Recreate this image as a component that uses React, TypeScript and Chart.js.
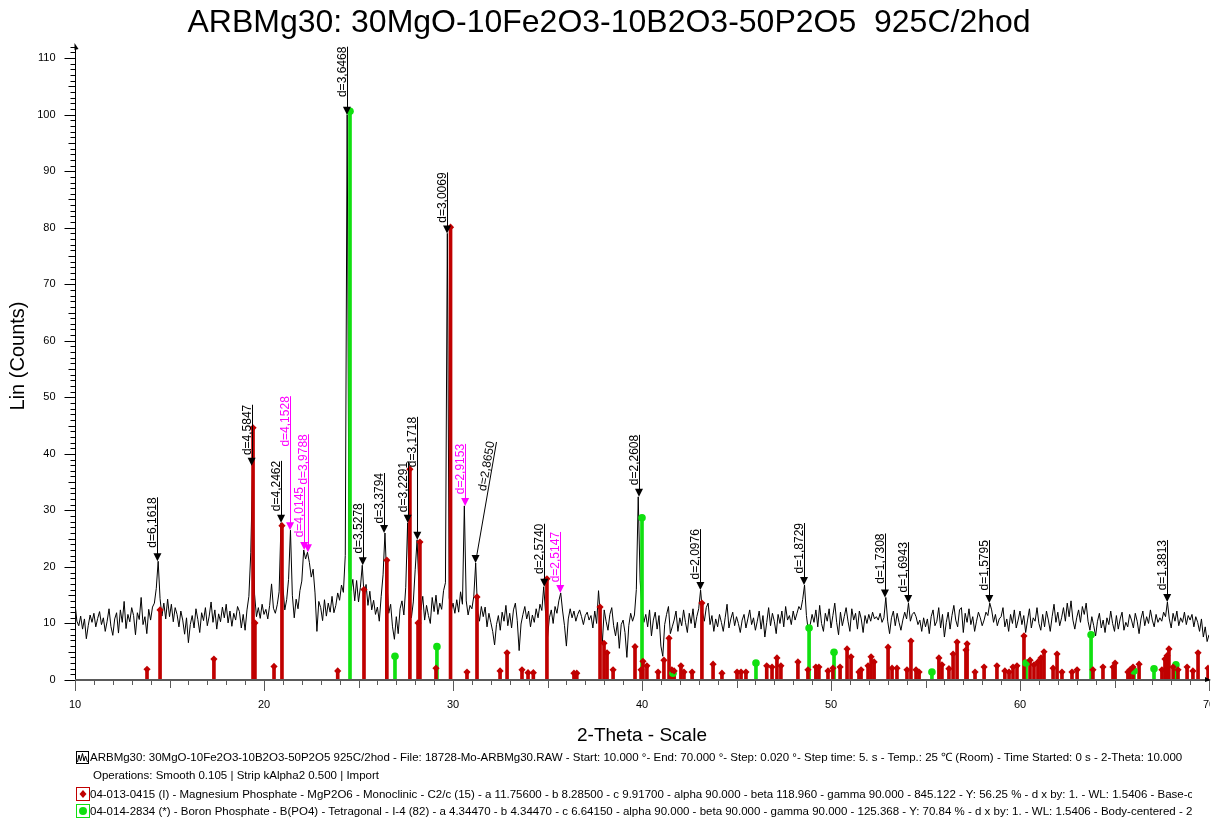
import { useEffect, useRef } from "react";
import { Chart, registerables } from "chart.js";

Chart.register(...registerables);

// Measured scan (2-Theta from SCAN_START in steps of SCAN_STEP), Lin (Counts)
const SCAN_START = 10;
const SCAN_STEP = 0.1;
const WAVELENGTH = 1.5406;

const counts: number[] = [
  13.5, 10.4, 9.6, 11.3, 9.0, 10.8, 7.3, 9.6, 11.5, 10.2,
  11.8, 9.4, 10.9, 12.1, 9.8, 11.0, 8.6, 10.4, 12.6, 9.5,
  7.9, 10.8, 11.9, 8.3, 12.4, 10.2, 13.9, 9.1, 11.6, 10.3,
  12.8, 11.4, 8.0, 11.9, 10.7, 14.6, 9.8, 11.2, 8.2, 12.5,
  10.6, 12.9, 13.6, 16.2, 21.0, 14.4, 11.3, 13.6, 10.8, 14.3,
  11.2, 13.4, 10.3, 12.8, 11.6, 9.4, 12.2, 10.6, 8.1, 11.0,
  6.6, 9.8, 11.4, 9.2, 12.6, 10.7, 8.4, 11.9, 10.5, 12.8,
  9.6, 11.3, 13.8, 10.2, 12.4, 9.0, 11.7, 10.3, 12.9, 11.0,
  13.4, 10.1, 12.2, 9.5, 11.8, 10.6, 13.0, 12.1, 9.2, 11.6,
  8.8, 12.4, 14.8, 22.5, 37.9, 15.2, 11.2, 12.8, 10.9, 13.4,
  11.6, 12.5, 10.8, 13.2, 17.0, 12.7, 11.8, 13.3, 15.6, 27.8,
  16.5, 12.4, 14.2, 17.8, 26.5, 15.0, 11.0, 14.3, 12.6, 15.8,
  17.5, 23.0, 21.4, 22.6, 20.8, 18.2, 19.6, 15.4, 8.6, 13.9,
  12.8, 10.5, 14.2, 11.3, 13.6, 12.0, 14.8, 11.9, 13.2, 15.4,
  14.1, 16.8, 15.5, 22.0, 100.0, 19.5, 15.8, 17.8, 14.0, 17.6,
  13.8, 16.4, 20.3, 14.6, 16.9, 13.2, 15.7, 12.4, 14.1, 11.6,
  12.9, 10.4, 14.8, 18.6, 26.0, 17.5, 11.8, 13.4, 9.4, 7.2,
  11.2, 8.2, 12.6, 14.0, 11.5, 16.4, 27.8, 13.6, 11.0, 13.8,
  19.5, 24.8, 16.2, 12.4, 14.8, 10.6, 13.2, 11.4, 10.0, 14.6,
  12.1, 15.0, 11.6, 13.6, 12.5, 15.8, 17.2, 79.0, 14.5, 12.2,
  13.6, 11.8, 14.2, 12.0, 15.6, 13.4, 30.8, 14.0, 11.5, 13.2,
  12.6, 14.8, 20.7, 12.3, 10.4, 13.0, 11.2, 12.9, 9.4, 11.8,
  10.2, 8.6, 6.2, 9.8, 11.4, 8.8, 12.0, 10.4, 13.2, 9.6,
  11.8, 9.2, 12.4, 13.6, 10.5, 5.2, 9.9, 11.6, 13.0, 10.8,
  12.2, 9.4, 11.5, 10.2, 12.6, 11.0, 13.4, 12.3, 16.5, 11.8,
  7.5, 11.0, 12.4, 10.0, 13.0, 11.8, 14.0, 15.4, 12.2, 9.6,
  6.0, 10.8, 12.6, 11.0, 12.2, 10.4, 11.6, 12.4, 11.2, 9.8,
  11.4, 12.0, 10.6, 11.4, 9.2, 12.2, 10.0, 15.8, 11.2, 6.4,
  12.4, 10.4, 8.8, 11.6, 12.8, 9.6, 7.8, 10.2, 5.6, 9.8,
  10.6, 8.4, 4.0, 9.6, 11.8, 10.4, 11.5, 16.0, 32.4, 17.6,
  12.8, 10.2, 11.6, 9.4, 12.4, 7.8, 10.6, 12.0, 9.0, 11.4,
  6.0, 4.2, 9.8, 11.6, 13.0, 8.2, 9.4, 10.6, 12.2, 8.6,
  11.0, 9.6, 12.4, 10.2, 8.4, 11.8, 10.0, 12.6, 9.2, 11.2,
  12.6, 15.9, 12.0, 10.4, 12.8, 13.6, 9.8, 11.4, 8.6, 10.8,
  9.4, 11.6, 10.2, 8.6, 11.0, 13.4, 9.2, 10.8, 12.0, 9.6,
  11.2, 10.0, 8.4, 10.6, 11.6, 9.2, 10.8, 12.4, 9.8, 11.0,
  8.8, 10.4, 12.2, 9.0, 11.4, 7.6, 10.2, 12.8, 9.6, 11.8,
  10.4, 8.2, 11.6, 10.0, 12.2, 9.4, 13.0, 10.6, 11.4, 9.8,
  12.2, 10.6, 11.8, 13.0, 12.4, 14.2, 16.8, 11.4, 8.6, 9.8,
  11.6, 10.2, 12.4, 9.4, 13.2, 10.0, 8.6, 11.8, 10.4, 12.6,
  9.2, 11.4, 13.6, 10.2, 8.0, 12.0, 9.6, 11.2, 12.8, 10.4,
  8.6, 12.6, 10.6, 11.8, 9.0, 12.2, 10.8, 8.4, 11.4, 10.0,
  11.6, 10.4, 12.0, 10.8, 11.2, 10.6, 11.8, 10.2, 11.0, 14.6,
  10.4, 8.2, 11.0, 12.2, 9.6, 11.8, 10.2, 8.8, 10.6, 12.0,
  10.8, 13.6, 10.4, 11.6, 12.0, 11.2, 9.8, 10.6, 8.6, 11.0,
  9.4, 10.8, 8.2, 11.2, 12.4, 9.6, 10.4, 12.8, 9.2, 11.6,
  7.6, 10.2, 12.0, 9.0, 11.4, 13.2, 10.6, 9.4, 12.4, 12.8,
  8.4, 11.8, 10.2, 12.6, 9.8, 11.2, 8.6, 10.4, 12.0, 11.0,
  9.6, 10.6, 12.0, 11.4, 13.6, 12.4, 10.2, 11.6, 9.6, 10.8,
  11.2, 12.8, 9.4, 10.8, 8.6, 11.6, 10.0, 12.4, 9.2, 10.6,
  12.2, 9.8, 11.4, 8.4, 10.6, 12.6, 9.2, 11.0, 10.4, 12.8,
  10.0, 8.8, 11.6, 9.4, 12.2, 10.6, 8.6, 11.2, 13.4, 10.2,
  12.0, 9.6, 11.0, 12.8, 10.4, 13.6, 11.2, 14.0, 10.6, 9.0,
  11.0, 12.4, 10.2, 13.0, 11.6, 13.6, 10.4, 8.8, 11.2, 9.6,
  7.8, 10.4, 11.8, 9.2, 10.6, 8.4, 11.0, 9.8, 12.2, 10.0,
  8.6, 11.4, 9.0, 10.8, 12.0, 8.8, 10.2, 9.4, 11.6, 10.6,
  9.2, 11.8, 10.4, 8.2, 10.8, 12.2, 9.6, 11.2, 10.0, 12.4,
  10.6, 9.4, 11.6, 10.2, 11.0, 10.4, 12.0, 11.2, 13.8, 10.8,
  9.2, 11.8, 10.4, 12.2, 9.6, 11.0, 10.2, 12.0, 9.8, 11.4,
  10.6, 11.6, 9.4, 11.2, 10.2, 8.6, 10.8, 7.6, 9.4, 6.8,
  8.0,
];

// 04-013-0415 Magnesium Phosphate MgP2O6 reference lines
const mgPosition = [
  13.81, 14.5, 17.35, 19.42, 19.52, 20.53, 20.95, 23.9, 25.29, 26.5,
  27.72, 28.15, 28.25, 29.1, 29.87, 30.74, 31.27, 32.49, 32.86, 33.65,
  33.97, 34.25, 34.97, 36.4, 36.55, 37.78, 37.99, 38.15, 38.47, 39.63,
  39.95, 40.05, 40.26, 40.85, 41.16, 41.43, 41.58, 41.7, 42.06, 42.22,
  42.65, 43.17, 43.76, 44.23, 45.03, 45.24, 45.5, 46.6, 46.88, 47.14,
  47.35, 48.25, 48.78, 49.2, 49.36, 49.84, 50.1, 50.48, 50.85, 51.06,
  51.48, 51.59, 51.96, 52.12, 52.28, 53.02, 53.23, 53.49, 54.02, 54.23,
  54.5, 54.66, 55.71, 55.87, 56.24, 56.46, 56.67, 57.14, 57.2, 57.62,
  58.1, 58.78, 59.2, 59.42, 59.63, 59.84, 60.21, 60.53, 60.74, 60.95,
  61.11, 61.27, 61.75, 61.96, 62.22, 62.75, 63.02, 63.86, 64.39, 64.92,
  65.03, 65.71, 65.82, 65.98, 66.3, 67.51, 67.67, 67.78, 67.88, 68.1,
  68.36, 68.84, 69.15, 69.42, 69.95,
];
const mgIntensity = [
  1.9, 12.4, 3.7, 44.6, 10.1, 2.4, 27.3, 1.6, 16.0, 21.2,
  37.3, 10.1, 24.4, 2.1, 80.1, 1.4, 14.7, 1.6, 4.8, 1.8,
  1.3, 1.3, 17.9, 1.2, 1.2, 12.9, 6.5, 4.8, 1.8, 5.9,
  1.8, 3.3, 2.5, 1.4, 3.5, 7.4, 1.8, 1.6, 2.5, 1.4,
  1.4, 13.6, 2.8, 1.2, 1.4, 1.4, 1.4, 2.5, 2.3, 3.9,
  2.5, 3.2, 1.8, 2.3, 2.3, 1.6, 2.1, 2.3, 5.5, 4.1,
  1.4, 1.8, 2.5, 4.1, 3.2, 5.8, 2.1, 2.1, 1.8, 6.9,
  1.8, 1.4, 3.9, 2.7, 2.0, 4.6, 6.7, 5.3, 6.4, 1.4,
  2.3, 2.5, 1.6, 1.4, 2.3, 2.5, 7.8, 3.5, 2.7, 3.2,
  3.9, 5.0, 2.1, 4.6, 1.4, 1.4, 1.8, 1.8, 2.3, 2.3,
  3.0, 1.4, 1.8, 2.3, 2.8, 1.8, 3.7, 4.3, 5.5, 2.3,
  1.8, 2.3, 1.6, 4.8, 2.1,
];

// 04-014-2834 Boron Phosphate B(PO4) reference lines
const bpPosition = [24.55, 26.93, 29.15, 40.0, 41.64, 46.03, 48.84, 50.16, 55.34, 60.32, 63.76, 66.03, 67.09, 68.25];
const bpIntensity = [100.6, 4.2, 5.9, 28.7, 1.2, 3.0, 9.2, 4.9, 1.4, 3.0, 8.0, 1.6, 2.0, 2.7];

// Identified peaks (d-spacing, Angstrom)
const peakD = [
  6.1618, 4.5847, 4.2462, 4.1528, 4.0145, 3.9788, 3.6468, 3.5278, 3.3794, 3.2291,
  3.1718, 3.0069, 2.9153, 2.865, 2.574, 2.5147, 2.2608, 2.0976, 1.8729, 1.7308,
  1.6943, 1.5795, 1.3813,
];
const peakHighlighted = [
  false, false, false, true, true, true, false, false, false, false,
  false, false, true, false, false, true, false, false, false, false,
  false, false, false,
];

const yTicks = [0, 10, 20, 30, 40, 50, 60, 70, 80, 90, 100, 110];
const xTicks = [10, 20, 30, 40, 50, 60, 70];

// Callout styling: stem length (px) and top lean (px) per peak
const calloutStem = [64, 61, 62, 134, 63, 118, 68, 62, 60, 61, 123, 61, 62, 121, 63, 61, 62, 61, 62, 64, 61, 63, 62];
const calloutLean = [0, 0, 0, 0, 0, 0, 0, 0, 0, 0, 0, 0, 0, 20, 0, 0, 0, 0, 0, 0, 0, 0, 0];

const TITLE = "ARBMg30: 30MgO-10Fe2O3-10B2O3-50P2O5  925C/2hod";
const LEGEND_SCAN =
  "ARBMg30: 30MgO-10Fe2O3-10B2O3-50P2O5  925C/2hod - File: 18728-Mo-ARBMg30.RAW - Start: 10.000 °- End:  70.000 °- Step: 0.020 °- Step time: 5. s - Temp.:  25 \u2103 (Room) - Time Started: 0 s - 2-Theta: 10.000";
const LEGEND_OPS = "Operations: Smooth 0.105 | Strip kAlpha2 0.500 | Import";
const LEGEND_MG =
  "04-013-0415 (I) - Magnesium Phosphate - MgP2O6 - Monoclinic - C2/c (15) - a 11.75600 - b 8.28500 - c 9.91700 - alpha 90.000 - beta 118.960 - gamma 90.000 - 845.122 - Y: 56.25 % - d x by: 1. - WL: 1.5406 - Base-centered";
const LEGEND_BP =
  "04-014-2834 (*) - Boron Phosphate - B(PO4) - Tetragonal - I-4 (82) - a 4.34470 - b 4.34470 - c 6.64150 - alpha 90.000 - beta 90.000 - gamma 90.000 - 125.368 - Y: 70.84 % - d x by: 1. - WL: 1.5406 - Body-centered - 2 -";

const RED = "#c00000";
const GREEN = "#10e010";
const MAGENTA = "#ff00ff";
const FONT = "'Liberation Sans', Arial, sans-serif";

const braggTwoTheta = (d: number) => (2 * Math.asin(WAVELENGTH / (2 * d)) * 180) / Math.PI;

const peakCounts = (tt: number) => {
  let best = 0;
  counts.forEach((c, i) => {
    const x = SCAN_START + i * SCAN_STEP;
    if (Math.abs(x - tt) <= 0.1 + 1e-9 && c > best) best = c;
  });
  return best;
};

const decorPlugin = {
  id: "xrdDecor",
  afterDatasetsDraw(chart: any) {
    const ctx: CanvasRenderingContext2D = chart.ctx;
    const xs = chart.scales.x;
    const ys = chart.scales.y;
    const area = chart.chartArea;
    ctx.save();

    // Y axis with arrow head
    ctx.strokeStyle = "#000";
    ctx.lineWidth = 1;
    const ax = Math.round(area.left) + 0.5;
    ctx.beginPath();
    ctx.moveTo(ax, area.bottom);
    ctx.lineTo(ax, area.top + 2);
    ctx.stroke();
    ctx.fillStyle = "#000";
    ctx.beginPath();
    ctx.moveTo(ax - 1, area.top - 1);
    ctx.lineTo(ax + 3, area.top + 5);
    ctx.lineTo(ax - 1, area.top + 6);
    ctx.closePath();
    ctx.fill();

    for (let v = 0; v <= 112; v++) {
      const y = Math.round(ys.getPixelForValue(v)) + 0.5;
      const len = v % 10 === 0 ? 11 : v % 5 === 0 ? 7 : 5;
      ctx.beginPath();
      ctx.moveTo(ax - len, y);
      ctx.lineTo(ax, y);
      ctx.stroke();
    }
    ctx.font = `11px ${FONT}`;
    ctx.fillStyle = "#000";
    ctx.textAlign = "right";
    ctx.textBaseline = "middle";
    yTicks.forEach((v) => ctx.fillText(String(v), ax - 20, ys.getPixelForValue(v)));

    // X axis
    const by = Math.round(area.bottom);
    ctx.strokeStyle = "#5a5a5a";
    ctx.lineWidth = 2;
    ctx.beginPath();
    ctx.moveTo(area.left, by);
    ctx.lineTo(area.right, by);
    ctx.stroke();
    ctx.lineWidth = 1;
    for (let t = 10; t <= 70; t++) {
      const x = Math.round(xs.getPixelForValue(t)) + 0.5;
      const len = t % 10 === 0 ? 11 : t % 5 === 0 ? 8 : 5;
      ctx.beginPath();
      ctx.moveTo(x, by);
      ctx.lineTo(x, by + len);
      ctx.stroke();
    }
    ctx.fillStyle = "#000";
    ctx.beginPath();
    ctx.moveTo(area.right + 2, by);
    ctx.lineTo(area.right - 4, by - 3);
    ctx.lineTo(area.right - 4, by + 2);
    ctx.closePath();
    ctx.fill();
    // Tick labels are cut at the plot's right border
    ctx.save();
    ctx.beginPath();
    ctx.rect(0, by, area.right + 1, 40);
    ctx.clip();
    ctx.textAlign = "center";
    ctx.textBaseline = "middle";
    xTicks.forEach((t) => ctx.fillText(String(t), xs.getPixelForValue(t), by + 25));
    ctx.restore();

    // Titles
    ctx.textAlign = "center";
    ctx.textBaseline = "middle";
    ctx.font = `32px ${FONT}`;
    ctx.fillText(TITLE, 609, 23);
    ctx.font = `19px ${FONT}`;
    ctx.fillText("2-Theta - Scale", 642, 736);
    ctx.save();
    ctx.translate(18, 356);
    ctx.rotate(-Math.PI / 2);
    ctx.font = `20px ${FONT}`;
    ctx.fillText("Lin (Counts)", 0, 0);
    ctx.restore();

    // Peak callouts
    ctx.font = `12px ${FONT}`;
    peakD.forEach((d, i) => {
      const tt = braggTwoTheta(d);
      const color = peakHighlighted[i] ? MAGENTA : "#000";
      const x = xs.getPixelForValue(tt);
      const yTip = ys.getPixelForValue(peakCounts(tt));
      const xTop = x + calloutLean[i];
      const yTop = yTip - calloutStem[i];
      ctx.fillStyle = color;
      ctx.strokeStyle = color;
      ctx.beginPath();
      ctx.moveTo(x, yTip);
      ctx.lineTo(x - 4, yTip - 8);
      ctx.lineTo(x + 4, yTip - 8);
      ctx.closePath();
      ctx.fill();
      ctx.beginPath();
      ctx.moveTo(Math.round(x) + 0.5, yTip - 6);
      ctx.lineTo(Math.round(xTop) + 0.5, yTop);
      ctx.stroke();
      const ang = Math.atan2(yTop - (yTip - 6), xTop - x);
      ctx.save();
      ctx.translate(Math.round(xTop) - 1.5, yTop);
      ctx.rotate(ang);
      ctx.textAlign = "right";
      ctx.textBaseline = "alphabetic";
      ctx.fillText("d=" + d.toFixed(4).replace(".", ","), 0, 0);
      ctx.restore();
    });

    ctx.restore();
  },
};

function PatternIcon() {
  return (
    <svg width="13" height="13" style={{ display: "block" }}>
      <rect x="0.5" y="0.5" width="12" height="12" fill="#fff" stroke="#000" />
      <polyline points="1.5,11 3,4 4.5,10 6.5,2.5 8,10 9.5,5 11.5,11" fill="none" stroke="#000" strokeWidth="1" />
    </svg>
  );
}

function MgIcon() {
  return (
    <svg width="14" height="14" style={{ display: "block" }}>
      <rect x="0.5" y="0.5" width="13" height="13" fill="#fff" stroke={RED} />
      <polygon points="7,3 10.5,7 7,11 3.5,7" fill={RED} />
    </svg>
  );
}

function BpIcon() {
  return (
    <svg width="14" height="14" style={{ display: "block" }}>
      <rect x="0.5" y="0.5" width="13" height="13" fill="#fff" stroke={GREEN} />
      <circle cx="7" cy="7" r="4" fill={GREEN} />
    </svg>
  );
}

const rowStyle = (top: number, left: number): any => ({
  position: "absolute",
  top,
  left,
  width: 1192 - left,
  height: 16,
  lineHeight: "16px",
  fontFamily: FONT,
  fontSize: 11.5,
  color: "#000",
  whiteSpace: "nowrap",
  overflow: "hidden",
});

export default function App() {
  const canvasRef = useRef<HTMLCanvasElement | null>(null);

  useEffect(() => {
    const canvas = canvasRef.current;
    if (!canvas) return;
    const scan = counts.map((c, i) => ({ x: SCAN_START + i * SCAN_STEP, y: c }));
    const mg = mgPosition.map((x, i) => ({ x, y: mgIntensity[i] }));
    const bp = bpPosition.map((x, i) => ({ x, y: bpIntensity[i] }));
    const chart = new Chart(canvas, {
      type: "line",
      data: {
        datasets: [
          {
            type: "line",
            data: scan,
            borderColor: "#000",
            borderWidth: 1,
            pointRadius: 0,
            tension: 0,
            order: 4,
          } as any,
          {
            type: "bar",
            data: mg,
            backgroundColor: RED,
            barThickness: 3,
            grouped: false,
            order: 3,
          } as any,
          {
            type: "bar",
            data: bp,
            backgroundColor: GREEN,
            barThickness: 3,
            grouped: false,
            order: 3,
          } as any,
          {
            type: "scatter",
            data: mg,
            pointStyle: "rectRot",
            pointRadius: 3.6,
            backgroundColor: RED,
            borderWidth: 0,
            order: 2,
          } as any,
          {
            type: "scatter",
            data: bp,
            pointStyle: "circle",
            pointRadius: 3.8,
            backgroundColor: GREEN,
            borderWidth: 0,
            order: 2,
          } as any,
        ],
      },
      options: {
        responsive: false,
        animation: false,
        devicePixelRatio: 1,
        events: [],
        layout: { padding: { left: 75, right: 6, top: 44, bottom: 138 } },
        plugins: { legend: { display: false }, tooltip: { enabled: false }, title: { display: false } },
        scales: {
          x: { type: "linear", min: 10, max: 70, offset: false, display: false },
          y: { type: "linear", min: 0, max: 112.5, display: false },
        },
      },
      plugins: [decorPlugin],
    });
    return () => chart.destroy();
  }, []);

  return (
    <div style={{ position: "fixed", left: 0, top: 0, width: 1215, height: 818, background: "#fff", overflow: "hidden" }}>
      <canvas ref={canvasRef} width={1215} height={818} style={{ display: "block" }} />
      <div style={{ position: "absolute", left: 76, top: 751 }}>
        <PatternIcon />
      </div>
      <div style={rowStyle(749, 90)}>{LEGEND_SCAN}</div>
      <div style={rowStyle(767, 93)}>{LEGEND_OPS}</div>
      <div style={{ position: "absolute", left: 76, top: 787 }}>
        <MgIcon />
      </div>
      <div style={rowStyle(786, 90)}>{LEGEND_MG}</div>
      <div style={{ position: "absolute", left: 76, top: 804 }}>
        <BpIcon />
      </div>
      <div style={rowStyle(803, 90)}>{LEGEND_BP}</div>
    </div>
  );
}
